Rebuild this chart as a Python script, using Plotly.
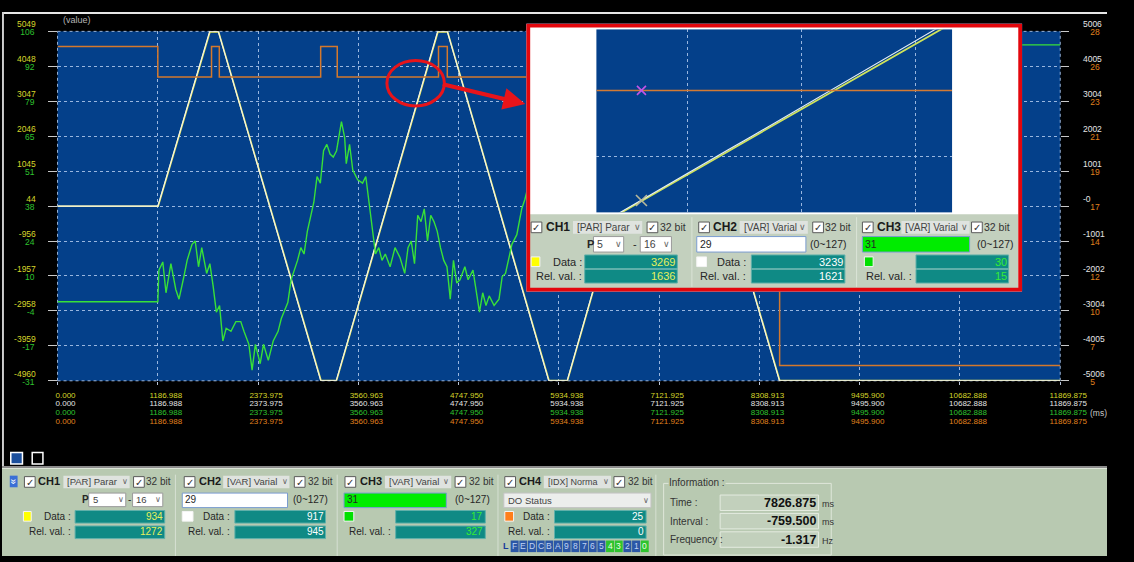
import plotly.graph_objects as go

W, H = 1134, 562
FONT = "Liberation Sans, Arial, sans-serif"

# ---------------- axes ----------------
TIME_TICKS = [0.000, 1186.988, 2373.975, 3560.963, 4747.950, 5934.938,
              7121.925, 8308.913, 9495.900, 10682.888, 11869.875]
TIME_LABELS = ["0.000", "1186.988", "2373.975", "3560.963", "4747.950", "5934.938",
               "7121.925", "8308.913", "9495.900", "10682.888", "11869.875"]

CH1_TICKS = [-4960, -3959.1, -2958.2, -1957.3, -956.4, 44.5, 1045.4, 2046.3, 3047.2, 4048.1, 5049]
CH1_LABELS = ["-4960", "-3959", "-2958", "-1957", "-956", "44", "1045", "2046", "3047", "4048", "5049"]
CH2_TICKS = [-5006, -4004.8, -3003.6, -2002.4, -1001.2, 0, 1001.2, 2002.4, 3003.6, 4004.8, 5006]
CH2_LABELS = ["-5006", "-4005", "-3004", "-2002", "-1001", "-0", "1001", "2002", "3004", "4005", "5006"]
CH3_TICKS = [-31, -17.3, -3.6, 10.1, 23.8, 37.5, 51.2, 64.9, 78.6, 92.3, 106]
CH3_LABELS = ["-31", "-17", "-4", "10", "24", "38", "51", "65", "79", "92", "106"]
CH4_TICKS = [5, 7.3, 9.6, 11.9, 14.2, 16.5, 18.8, 21.1, 23.4, 25.7, 28]
CH4_LABELS = ["5", "7", "10", "12", "14", "17", "19", "21", "23", "26", "28"]

# ---------------- channel data ----------------
# CH1 / CH2: position profile (trapezoid), ms -> value
CH1_T = [0, 1191, 1804, 1907, 3119, 3303, 4503, 4618, 5818, 6037, 7222, 7337, 8549, 11869.875]
CH1_V = [40, 40, 5030, 5030, -4950, -4950, 5030, 5030, -4950, -4950, 5030, 5030, -4950, -4950]
CH2_T = [0, 1187, 1800, 1903, 3115, 3299, 4499, 4614, 5814, 6033, 7218, 7333, 8545, 11869.875]
CH2_V = [0, 0, 5000, 5000, -5000, -5000, 5000, 5000, -5000, -5000, 5000, 5000, -5000, -5000]

# CH3: noisy variable
CH3_T = [0, 1187, 1200, 1246, 1284, 1342, 1400, 1438, 1496, 1534,
         1592, 1630, 1669, 1707, 1765, 1803, 1842, 1880, 1918, 1957,
         1996, 2053, 2111, 2169, 2207, 2265, 2303, 2342, 2399, 2438,
         2495, 2553, 2611, 2649, 2726, 2765, 2803, 2841, 2880, 2918,
         2957, 2995, 3034, 3072, 3111, 3149, 3188, 3226, 3264, 3303,
         3341, 3361, 3399, 3418, 3457, 3495, 3553, 3611, 3649, 3687,
         3726, 3764, 3803, 3841, 3880, 3937, 3995, 4053, 4110, 4149,
         4187, 4226, 4264, 4303, 4341, 4380, 4418, 4456, 4495, 4533,
         4572, 4610, 4649, 4687, 4726, 4764, 4822, 4860, 4918, 4957,
         4995, 5033, 5072, 5110, 5168, 5226, 5264, 5303, 5341, 5379,
         5437, 5495, 5533, 5620, 5750, 6000, 6300, 6700, 7100, 7500,
         7826.875, 8200, 8700, 9300, 9900, 10500, 11000, 11420, 11869.875]
CH3_V = [0, 0, 12.4, 15.6, 3.5, 14.9, 4.8, 1.0, 9.9, 16.2,
         22.5, 23.8, 13.7, 21.2, 11.1, 14.9, 6.1, -4.1, -1.5, -15.4,
         -10.4, -11.6, -7.8, -7.8, -11.6, -16.7, -26.8, -16.7, -24.3, -16.7,
         -23.0, -15.4, -11.6, -6.6, -0.3, 8.6, 12.4, 16.2, 21.2, 18.7,
         27.6, 33.9, 39.0, 49.1, 46.5, 59.2, 61.7, 57.9, 56.7, 59.2,
         66.8, 70.6, 64.3, 54.1, 61.7, 51.6, 47.8, 46.5, 49.1, 39.0,
         28.8, 18.7, 21.2, 16.2, 18.7, 13.7, 21.2, 17.4, 11.1, 21.2,
         23.8, 14.9, 33.9, 31.4, 36.4, 23.8, 33.9, 31.4, 27.6, 21.2,
         16.2, 13.7, 1.0, 16.2, 7.3, 8.6, 13.7, 8.6, 12.4, 3.5,
         -4.1, 3.5, -1.5, 2.3, -1.5, 1.0, 9.9, 11.1, 17.4, 22.5,
         26.3, 36.4, 40.2, 52, 60, 68, 57, 44, 30, 22,
         17, 26, 44, 63, 80, 91, 97, 100.7, 100.7]

# CH4: DO status (step signal)
CH4_T = [0, 1187, 1823, 1915, 3115, 3311, 4510, 4614, 5814, 6033, 7218, 7333, 8548, 11869.875]
CH4_V = [27, 25, 27, 25, 27, 25, 27, 25, 27, 25, 27, 25, 6, 6]

# zoomed window around the CH4 level crossing
ZOOM_T = [4182, 4186, 4190, 4194, 4198, 4202, 4206, 4210,
          4214, 4218, 4222, 4226, 4230, 4234, 4238, 4242]
ZOOM_CH1 = [3207, 3241, 3274, 3307, 3340, 3374, 3407, 3440,
            3473, 3506, 3539, 3572, 3605, 3638, 3671, 3705]
ZOOM_CH2 = [3209, 3243, 3276, 3310, 3343, 3377, 3410, 3444,
            3478, 3511, 3545, 3579, 3612, 3646, 3680, 3714]
ZOOM_CH4_T = [4180, 4240]
ZOOM_CH4 = [25, 25]
ZOOM_CURSOR_T = [4187.6]
ZOOM_CURSOR_CH2 = [3255]
ZOOM_CURSOR_CH4 = [25]
ZOOM_GRID_T = [4195.4, 4214.6, 4233.8]
ZOOM_GRID_V = [3363]

# readouts
MAIN_READ = {"CH1": ("934", "1272"), "CH2": ("917", "945"), "CH3": ("17", "327"), "CH4": ("25", "0")}
ZOOM_READ = {"CH1": ("3269", "1636"), "CH2": ("3239", "1621"), "CH3": ("30", "15")}
INFO = [("Time :", "7826.875", "ms"), ("Interval :", "-759.500", "ms"), ("Frequency :", "-1.317", "Hz")]
DO_BITS = "FEDCBA9876543210"

# ---------------- colours ----------------
BG_BLUE = "#04408a"
GRID = "rgba(170,195,232,0.9)"
C_YEL, C_WHT, C_GRN, C_ORG = "#e8e85a", "#f4f4f0", "#38e038", "#d4782c"
T_YEL, T_WHT, T_GRN, T_ORG = "#d6d62a", "#e4e4e4", "#2fc42f", "#e0821e"
PANEL = "#b8c9b1"
TEAL = "#0f8a85"
INK = "#262626"

# ---------------- traces ----------------
fig = go.Figure()
fig.add_trace(go.Scatter(x=CH4_T, y=CH4_V, xaxis="x6", yaxis="y4", mode="lines", line_shape="hv",
                         line=dict(color=C_ORG, width=1.5)))
fig.add_trace(go.Scatter(x=CH3_T, y=CH3_V, xaxis="x5", yaxis="y3", mode="lines",
                         line=dict(color=C_GRN, width=1.4)))
fig.add_trace(go.Scatter(x=CH1_T, y=CH1_V, xaxis="x", yaxis="y", mode="lines",
                         line=dict(color=C_YEL, width=1.6)))
fig.add_trace(go.Scatter(x=CH2_T, y=CH2_V, xaxis="x4", yaxis="y2", mode="lines",
                         line=dict(color=C_WHT, width=1.1)))

# zoom window traces
fig.add_trace(go.Scatter(x=ZOOM_CH4_T, y=ZOOM_CH4, xaxis="x3", yaxis="y7", mode="lines",
                         line=dict(color="#d27a34", width=1.5)))
fig.add_trace(go.Scatter(x=ZOOM_T, y=ZOOM_CH1, xaxis="x3", yaxis="y6", mode="lines",
                         line=dict(color="#cfe35a", width=1.8)))
fig.add_trace(go.Scatter(x=ZOOM_T, y=ZOOM_CH2, xaxis="x3", yaxis="y6", mode="lines",
                         line=dict(color="#e6eef8", width=1.1)))
fig.add_trace(go.Scatter(x=ZOOM_CURSOR_T, y=ZOOM_CURSOR_CH4, xaxis="x3", yaxis="y7", mode="markers",
                         marker=dict(symbol="x-thin", size=9, line=dict(color="#c455e6", width=1.6))))
fig.add_trace(go.Scatter(x=ZOOM_CURSOR_T, y=ZOOM_CURSOR_CH2, xaxis="x3", yaxis="y6", mode="markers",
                         marker=dict(symbol="x-thin", size=11, line=dict(color="#b8b89a", width=1.6))))

# ---------------- helpers for panel drawing ----------------
shapes, annotations = [], []


def _xy(x, y, ref):
    if ref == "paper":
        return x / W, 1 - y / H, "paper", "paper"
    return x, y, "x2", "y5"


def R(x0, y0, x1, y1, fill=None, line=None, lw=1, ref="paper", layer=None):
    a0, b0, xr, yr = _xy(x0, y0, ref)
    a1, b1, _, _ = _xy(x1, y1, ref)
    shapes.append(dict(type="rect", x0=a0, x1=a1, y0=b0, y1=b1, xref=xr, yref=yr,
                       fillcolor=fill if fill else "rgba(0,0,0,0)",
                       line=dict(color=line if line else "rgba(0,0,0,0)", width=lw if line else 0),
                       layer=layer or ("above" if ref == "paper" else "below")))


def L(x0, y0, x1, y1, color, lw=1, ref="paper"):
    a0, b0, xr, yr = _xy(x0, y0, ref)
    a1, b1, _, _ = _xy(x1, y1, ref)
    shapes.append(dict(type="line", x0=a0, x1=a1, y0=b0, y1=b1, xref=xr, yref=yr,
                       line=dict(color=color, width=lw),
                       layer="above" if ref == "paper" else "below"))


def T(x, y, s, size=10, color=INK, xa="left", bold=False, ref="paper", bg=None, angle=0):
    a, b, xr, yr = _xy(x, y, ref)
    d = dict(x=a, y=b, xref=xr, yref=yr, text="<b>%s</b>" % s if bold else s, showarrow=False,
             xanchor=xa, yanchor="middle", borderpad=0, textangle=angle,
             font=dict(size=size, color=color, family=FONT))
    if bg:
        d["bgcolor"] = bg
    annotations.append(d)


def checkbox(x, y, s=11, ref="paper"):
    R(x, y, x + s, y + s, fill="white", line="#5a5a5a", lw=1, ref=ref)
    T(x + s / 2, y + s / 2 + 0.5, "✓", size=s - 1, color="#303030", xa="center", ref=ref)


def dropdown(x0, y0, x1, y1, label, size=9.5, ref="paper", fill="#dfe3df", line=None):
    R(x0, y0, x1, y1, fill=fill, line=line, ref=ref)
    T(x0 + 3, (y0 + y1) / 2, label, size=size, color="#444", ref=ref)
    T(x1 - 5, (y0 + y1) / 2, "∨", size=size - 1.5, color="#666", xa="center", ref=ref)


# ---------------- window chrome ----------------
R(0, 0, W, 2, fill="#e6e6e6")
R(0, 0, 2, 470, fill="#cfcfcf")
T(62, 8, "(value)", size=9, color="#b4b4b4")
T(1116, 414, "(ms)", size=8.5, color="#c8c8c8")
R(9, 455, 21, 467, fill="#1c4f9c", line="white", lw=1.5)
R(31, 455, 42, 467, fill="black", line="white", lw=1.5)

# main plot frame (dotted border)
for x0, y0, x1, y1 in [(0, 0, 1, 0), (0, 1, 1, 1), (0, 0, 0, 1), (1, 0, 1, 1)]:
    shapes.append(dict(type="line", xref="x domain", yref="y domain", x0=x0, x1=x1, y0=y0, y1=y1,
                       line=dict(color=GRID, width=1, dash="3px,3px"), layer="below"))

# highlight ellipse and arrow
shapes.append(dict(type="circle", xref="paper", yref="paper", x0=395 / W, x1=454 / W,
                   y0=1 - 97 / H, y1=1 - 50 / H, line=dict(color="#e8141a", width=3), layer="above"))
annotations.append(dict(x=537 / W, y=1 - 95 / H, xref="paper", yref="paper", ax=-84, ay=-20,
                        showarrow=True, arrowhead=2, arrowsize=1.1, arrowwidth=4,
                        arrowcolor="#e8141a", text="", standoff=0))

# ---------------- bottom control panel ----------------
R(0, 471, W, H, fill=PANEL)
R(0, 469, W, 471, fill="#8c8c8c")
R(0, 471, W, 472, fill="#dde6d8")
for sx in [178, 344, 509, 671]:
    L(sx, 478, sx, H, "#d6e0d2", 1)
R(8, 479, 16, 491, fill="#3a6fd6")
T(12, 485, "»", size=10, color="white", xa="center", angle=90)

ROW1, ROW2, ROW3, ROW4 = 485, 504, 521, 537


def channel_block(name, x_cb, x_name, dd, x_cb2, x_32, row2, swatch, data_lbl_x, box, values, val_color):
    checkbox(x_cb, 480)
    T(x_name, ROW1, name, size=11, bold=True, color="#1a1a1a")
    dropdown(dd[0], 479, dd[1], 492, dd[2], size=dd[3])
    checkbox(x_cb2, 480)
    T(x_32, ROW1, "32 bit", size=10, color="#333")
    row2()
    R(swatch[0], 516, swatch[1], 526, fill=swatch[2], line="#f4f4f4")
    if data_lbl_x[1]:
        T(data_lbl_x[0], ROW3, "Data :", xa="right")
    T(data_lbl_x[0], ROW4, "Rel. val. :", xa="right")
    R(box[0], 515, box[1], 528, fill=TEAL, line="#5fb0aa")
    R(box[0], 531, box[1], 544, fill=TEAL, line="#5fb0aa")
    T(box[1] - 1, ROW3, values[0], xa="right", color=val_color)
    T(box[1] - 1, ROW4, values[1], xa="right", color=val_color)


def ch1_row2():
    T(86, ROW2, "P", bold=True, xa="center", size=10)
    dropdown(89, 497, 127, 511, "5", fill="white", line="#9a9a9a")
    T(130.5, ROW2, "-", xa="center")
    dropdown(134, 497, 165, 511, "16", fill="white", line="#9a9a9a")


def ch2_row2():
    R(185, 497, 293, 512, fill="white", line="#7a9cd0")
    T(187, ROW2, "29")
    T(298, ROW2, "(0~127)")


def ch3_row2():
    R(351, 497, 456, 512, fill="#00ec00", line="#7a9cd0")
    T(353, ROW2, "31")
    T(464, ROW2, "(0~127)")


def ch4_row2():
    dropdown(515, 497, 666, 512, "DO Status", fill="#eceeec", line="#c4c4c4")


channel_block("CH1", 23, 36, (63, 131, "[PAR] Parar", 9.5), 135, 147, ch1_row2, (22, 30, "#ffff00"),
              (72, True), (75, 167), MAIN_READ["CH1"], "#e6f05c")
channel_block("CH2", 187, 201, (227, 295, "[VAR] Varial", 9.5), 300, 313, ch2_row2, (185, 196, "#ffffff"),
              (235, True), (239, 332), MAIN_READ["CH2"], "#ffffff")
channel_block("CH3", 352, 366, (393, 461, "[VAR] Varial", 9.5), 465, 478, ch3_row2, (351, 361, "#00e000"),
              (400, False), (404, 496), MAIN_READ["CH3"], "#34ec34")
channel_block("CH4", 516, 530, (556, 625, "[IDX] Norma", 9), 628, 641, ch4_row2, (516, 525, "#ff7f1a"),
              (563, True), (567, 661), MAIN_READ["CH4"], "#ffffff")

# DO bit indicators (set bits follow the CH4 data value)
do_value = int(MAIN_READ["CH4"][0])
T(517, 552, "L", size=9, bold=True, color="#1a3a9a", xa="center")
for i, ch in enumerate(DO_BITS):
    bit = len(DO_BITS) - 1 - i
    on = (do_value >> bit) & 1
    x0 = 522 + i * 8.9
    R(x0, 546, x0 + 8.2, 558, fill="#2ec42e" if on else "#2b57a6")
    T(x0 + 4.1, 552, ch, size=8.5, color="#eaffea" if on else "#c0d4f4", xa="center")

# information group
R(679, 487, 851, 561, line="#dfe7da")
T(683, 486, "Information :", size=10, color="#333", bg=PANEL)
for k, (lbl, val, unit) in enumerate(INFO):
    yc = 507 + k * 19
    T(684, yc, lbl, size=10, color="#333")
    R(737, yc - 8, 838, yc + 8, fill="#c2d0bc", line="#e4ebe0")
    T(836, yc, val, size=12.5, bold=True, color="#111", xa="right")
    T(840, yc + 1, unit, size=9, color="#333")

# ---------------- zoom window (inset) ----------------
R(538, 12, 1047, 289, fill="white", ref="inset")
R(541, 209, 1043, 286, fill="#c3d0be", ref="inset")
for sx in [708, 877]:
    L(sx, 212, sx, 284, "#dbe4d7", 1, ref="inset")

ZR1, ZR2, ZR3, ZR4 = 222.5, 240, 258, 273


def zoom_block(name, x_cb, x_name, dd, x_cb2, x_32, row2, swatch, lbl_x, box, values, val_color):
    checkbox(x_cb, 217, ref="inset")
    T(x_name, ZR1, name, size=12, bold=True, color="#1a1a1a", ref="inset")
    dropdown(dd[0], 216, dd[1], 229, dd[2], size=10, ref="inset")
    checkbox(x_cb2, 217, ref="inset")
    T(x_32, ZR1, "32 bit", size=10.5, color="#333", ref="inset")
    row2()
    R(swatch[0], 253, swatch[1], 263, fill=swatch[2], line="#f4f4f4", ref="inset")
    if lbl_x[1]:
        T(lbl_x[0], ZR3, "Data :", size=11, xa="right", ref="inset")
    T(lbl_x[0], ZR4, "Rel. val. :", size=11, xa="right", ref="inset")
    R(box[0], 251, box[1], 265, fill=TEAL, line="#5fb0aa", ref="inset")
    R(box[0], 266, box[1], 280, fill=TEAL, line="#5fb0aa", ref="inset")
    T(box[1] - 1, ZR3, values[0], size=11, xa="right", color=val_color, ref="inset")
    T(box[1] - 1, ZR4, values[1], size=11, xa="right", color=val_color, ref="inset")


def z1_row2():
    T(604, ZR2, "P", bold=True, xa="center", size=11, ref="inset")
    dropdown(607, 232, 638, 248, "5", size=10.5, fill="white", line="#9a9a9a", ref="inset")
    T(650, ZR2, "-", xa="center", size=11, ref="inset")
    dropdown(655, 232, 687, 248, "16", size=10.5, fill="white", line="#9a9a9a", ref="inset")


def z2_row2():
    R(713, 232, 825, 248, fill="white", line="#7a9cd0", ref="inset")
    T(715, ZR2, "29", size=10.5, ref="inset")
    T(828, ZR2, "(0~127)", size=10.5, ref="inset")


def z3_row2():
    R(883, 232, 993, 248, fill="#00ec00", line="#7a9cd0", ref="inset")
    T(885, ZR2, "31", size=10.5, ref="inset")
    T(1000, ZR2, "(0~127)", size=10.5, ref="inset")


zoom_block("CH1", 543, 557, (586, 657, "[PAR] Parar"), 662, 674, z1_row2, (543, 552, "#ffff00"),
           (596, True), (598, 693), ZOOM_READ["CH1"], "#e6f05c")
zoom_block("CH2", 715, 729, (757, 827, "[VAR] Varial"), 832, 844, z2_row2, (713, 723, "#ffffff"),
           (765, True), (769, 865), ZOOM_READ["CH2"], "#ffffff")
zoom_block("CH3", 883, 897, (923, 993, "[VAR] Varial"), 995, 1007, z3_row2, (885, 894, "#00e000"),
           (935, False), (938, 1033), ZOOM_READ["CH3"], "#34ec34")
R(540, 14, 1045, 287, line="#e3070d", lw=4, ref="inset")

# ---------------- layout ----------------
tick_font = dict(size=8.5, family=FONT)


def time_axis(color, standoff, main=False):
    d = dict(range=[0, 11869.875], tickmode="array", tickvals=TIME_TICKS, ticktext=TIME_LABELS,
             tickfont=dict(size=8, family=FONT, color=color), zeroline=False, showline=False,
             fixedrange=True, anchor="y", ticklabelshift=8, ticklabelstandoff=standoff)
    if main:
        d.update(domain=[57 / W, 1086 / W], ticks="outside", ticklen=3, tickcolor="#b8c4d8",
                 showgrid=True, gridcolor=GRID, griddash="3px,3px", gridwidth=1)
    else:
        d.update(overlaying="x", ticks="", showgrid=False)
    return d


fig.update_layout(
    width=W, height=H, margin=dict(l=0, r=0, t=0, b=0),
    paper_bgcolor="black", plot_bgcolor=BG_BLUE, showlegend=False, hovermode=False,
    font=dict(family=FONT),
    xaxis=time_axis(T_YEL, 4, main=True),
    xaxis4=time_axis(T_WHT, 16),
    xaxis5=time_axis(T_GRN, 25),
    xaxis6=time_axis(T_ORG, 34),
    yaxis=dict(domain=[1 - 381 / H, 1 - 20 / H], range=[-4960, 5049], tickmode="array",
               tickvals=CH1_TICKS, ticktext=CH1_LABELS, tickfont=dict(tick_font, color=T_YEL),
               ticks="outside", ticklen=9, tickcolor="#c8c8c8", showgrid=True, gridcolor=GRID,
               griddash="3px,3px", gridwidth=1, zeroline=False, showline=False, fixedrange=True,
               ticklabelshift=-7, ticklabelstandoff=10),
    yaxis2=dict(overlaying="y", side="right", anchor="x", range=[-5006, 5006], tickmode="array",
                tickvals=CH2_TICKS, ticktext=CH2_LABELS, tickfont=dict(tick_font, color=T_WHT),
                ticks="outside", ticklen=8, tickcolor="#c8c8c8", showgrid=False, zeroline=False,
                fixedrange=True, ticklabelshift=-7, ticklabelstandoff=12),
    yaxis3=dict(overlaying="y", side="left", anchor="x", range=[-31, 106], tickmode="array",
                tickvals=CH3_TICKS, ticktext=CH3_LABELS, tickfont=dict(tick_font, color=T_GRN),
                ticks="", showgrid=False, zeroline=False, fixedrange=True,
                ticklabelshift=1, ticklabelstandoff=22),
    yaxis4=dict(overlaying="y", side="right", anchor="x", range=[5, 28], tickmode="array",
                tickvals=CH4_TICKS, ticktext=CH4_LABELS, tickfont=dict(tick_font, color=T_ORG),
                ticks="", showgrid=False, zeroline=False, fixedrange=True,
                ticklabelshift=1, ticklabelstandoff=29),
    # inset frame (pixel-like coordinates)
    xaxis2=dict(domain=[538 / W, 1047 / W], range=[538, 1047], anchor="y5", visible=False, fixedrange=True),
    yaxis5=dict(domain=[1 - 289 / H, 1 - 12 / H], range=[289, 12], anchor="x2", visible=False, fixedrange=True),
    # inset chart
    xaxis3=dict(domain=[610 / W, 975 / W], range=[4180, 4240], anchor="y6", tickmode="array",
                tickvals=ZOOM_GRID_T, showticklabels=False, ticks="", showgrid=True, gridcolor=GRID,
                griddash="3px,3px", zeroline=False, showline=False, fixedrange=True),
    yaxis6=dict(domain=[1 - 207 / H, 1 - 18 / H], range=[3226, 3673], anchor="x3", tickmode="array",
                tickvals=ZOOM_GRID_V, showticklabels=False, ticks="", showgrid=True, gridcolor=GRID,
                griddash="3px,3px", zeroline=False, showline=False, fixedrange=True),
    yaxis7=dict(overlaying="y6", anchor="x3", range=[24.2, 25.4], visible=False, fixedrange=True),
    shapes=shapes, annotations=annotations,
)

fig.write_html("out.html", config={"displayModeBar": False})
